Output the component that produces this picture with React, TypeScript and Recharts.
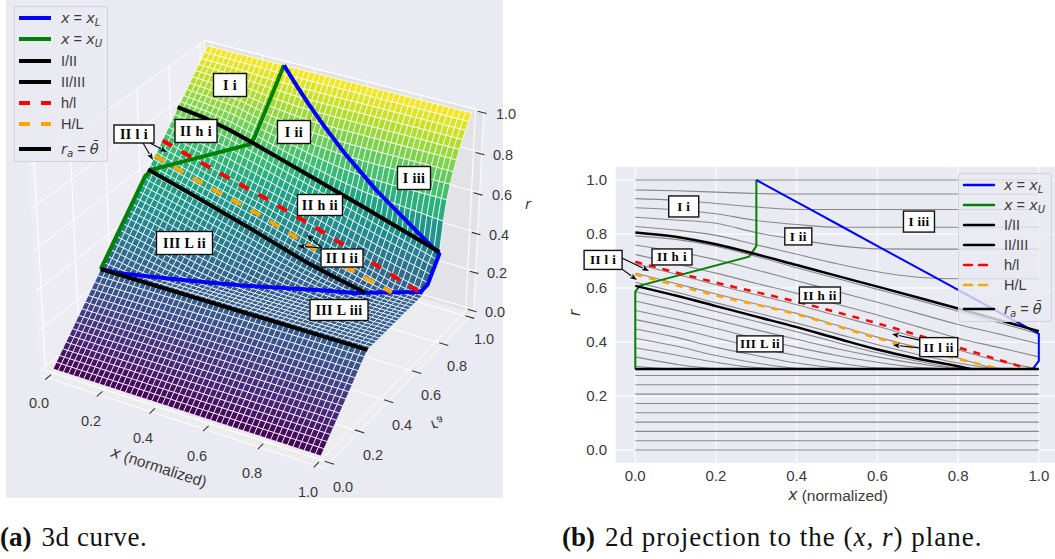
import React from 'react';
import { ScatterChart, Scatter, XAxis, YAxis, CartesianGrid } from 'recharts';

// ---------- values ----------
const xKnots = [0, 0.1, 0.2, 0.3, 0.4, 0.5, 0.6, 0.7, 0.8, 0.9, 1];
const axisTicks = [0, 0.2, 0.4, 0.6, 0.8, 1];
// flat grey curves, below r = 0.3
const lowLevels = [0, 0.0345, 0.069, 0.1034, 0.1379, 0.1724, 0.2069, 0.2414, 0.2759];
// curved grey curves (one per r_a level)
const curveRa = [0.3103, 0.3448, 0.3793, 0.4138, 0.4483, 0.4828, 0.5172, 0.5517, 0.5862, 0.6207, 0.6552, 0.6897, 0.7241, 0.7586, 0.7931, 0.8276, 0.8621, 0.8966, 0.931, 0.9655, 1];
const curveR = [
  [0.31, 0.3, 0.3, 0.3, 0.3, 0.3, 0.3, 0.3, 0.3, 0.3, 0.3],
  [0.345, 0.318, 0.302, 0.3, 0.3, 0.3, 0.3, 0.3, 0.3, 0.3, 0.3],
  [0.379, 0.352, 0.325, 0.305, 0.3, 0.3, 0.3, 0.3, 0.3, 0.3, 0.3],
  [0.414, 0.385, 0.35, 0.322, 0.303, 0.3, 0.3, 0.3, 0.3, 0.3, 0.3],
  [0.448, 0.418, 0.38, 0.35, 0.322, 0.304, 0.3, 0.3, 0.3, 0.3, 0.3],
  [0.483, 0.452, 0.415, 0.38, 0.35, 0.323, 0.304, 0.3, 0.3, 0.3, 0.3],
  [0.517, 0.485, 0.45, 0.413, 0.38, 0.35, 0.325, 0.306, 0.3, 0.3, 0.3],
  [0.552, 0.518, 0.482, 0.445, 0.41, 0.375, 0.345, 0.32, 0.303, 0.3, 0.3],
  [0.586, 0.551, 0.513, 0.476, 0.438, 0.398, 0.36, 0.329, 0.304, 0.3, 0.3],
  [0.621, 0.585, 0.545, 0.508, 0.47, 0.43, 0.39, 0.354, 0.322, 0.302, 0.3],
  [0.655, 0.617, 0.578, 0.541, 0.506, 0.462, 0.418, 0.38, 0.341, 0.303, 0.3],
  [0.69, 0.652, 0.612, 0.575, 0.538, 0.498, 0.458, 0.415, 0.371, 0.33, 0.3],
  [0.724, 0.69, 0.655, 0.617, 0.58, 0.54, 0.5, 0.457, 0.414, 0.38, 0.345],
  [0.759, 0.735, 0.705, 0.667, 0.627, 0.587, 0.547, 0.506, 0.465, 0.43, 0.393],
  [0.793, 0.78, 0.755, 0.717, 0.675, 0.635, 0.595, 0.555, 0.514, 0.472, 0.43],
  [0.828, 0.815, 0.795, 0.76, 0.725, 0.69, 0.66, 0.64, 0.634, 0.634, 0.634],
  [0.862, 0.852, 0.84, 0.805, 0.78, 0.757, 0.745, 0.744, 0.744, 0.744, 0.744],
  [0.897, 0.89, 0.875, 0.85, 0.835, 0.825, 0.825, 0.825, 0.825, 0.825, 0.825],
  [0.931, 0.925, 0.913, 0.9, 0.891, 0.891, 0.891, 0.891, 0.891, 0.891, 0.891],
  [0.963, 0.96, 0.955, 0.95, 0.948, 0.948, 0.948, 0.948, 0.948, 0.948, 0.948],
  [1, 1, 1, 1, 1, 1, 1, 1, 1, 1, 1],
];
// boundary curves
const raIII = 0.605;
const xIII = [0, 0.1, 0.2, 0.3, 0.4, 0.5, 0.6, 0.7, 0.8, 0.83];
const rIII = [0.608, 0.572, 0.533, 0.494, 0.455, 0.413, 0.372, 0.338, 0.31, 0.3];
const raII = 0.8;
const rII = [0.806, 0.79, 0.762, 0.725, 0.685, 0.645, 0.605, 0.565, 0.524, 0.482, 0.44];
const raRed = 0.7;
const xRed = [0, 0.2, 0.4, 0.6, 0.8, 0.975];
const rRed = [0.697, 0.62, 0.549, 0.469, 0.38, 0.3];
const raOrange = 0.65;
const xOrange = [0, 0.2, 0.4, 0.6, 0.8, 0.905];
const rOrange = [0.65, 0.572, 0.5025, 0.414, 0.337, 0.3];
const raTheta = 0.3;
const xTheta = [0, 1];
const rTheta = [0.3, 0.3];
const xGreen = [0.3, 0.3, 0.282, 0.012, 0, 0];
const raGreen = [1, 0.8, 0.8, 0.61, 0.587, 0.3];
const rGreen = [1, 0.755, 0.716, 0.609, 0.587, 0.3];
const xBlue = [0.3, 0.364, 0.434, 0.515, 0.614, 0.75, 1, 1, 0.985, 0.9, 0.83, 0.8, 0.71, 0.63, 0.55, 0.47, 0.38, 0.28, 0.18, 0.07, 0];
const raBlue = [1, 0.9655, 0.931, 0.897, 0.862, 0.828, 0.8, 0.72, 0.7, 0.65, 0.605, 0.586, 0.552, 0.517, 0.483, 0.448, 0.414, 0.379, 0.345, 0.31, 0.3];
const rBlue = [1, 0.948, 0.891, 0.825, 0.744, 0.634, 0.43, 0.33, 0.3, 0.3, 0.3, 0.3, 0.3, 0.3, 0.3, 0.3, 0.3, 0.3, 0.3, 0.3, 0.3];

const labels3d = [
  { t: 'I i', u: 230, v: 85, w: 33, h: 23 },
  { t: 'I ii', u: 294, v: 132, w: 33, h: 23 },
  { t: 'II h i', u: 196, v: 131, w: 42, h: 23 },
  { t: 'II l i', u: 134, v: 134, w: 40, h: 18 },
  { t: 'I iii', u: 414, v: 178, w: 33, h: 23 },
  { t: 'II h ii', u: 320, v: 205, w: 45, h: 21 },
  { t: 'III L ii', u: 184.5, v: 243, w: 56, h: 23 },
  { t: 'II l ii', u: 342, v: 258, w: 42, h: 18 },
  { t: 'III L iii', u: 339, v: 310, w: 58, h: 21 },
];
const arrows3d = [
  { u: 143, v: 143, du: 10, dv: 17 },
  { u: 150, v: 143, du: 17, dv: 9 },
  { u: 322, v: 248, du: -15, dv: -13 },
  { u: 322, v: 248, du: -24, dv: -2 },
];
const labels2d = [
  { t: 'I i', x: 0.12, r: 0.902, w: 30, h: 21, dx: 0 },
  { t: 'I ii', x: 0.404, r: 0.791, w: 27, h: 17, dx: 0 },
  { t: 'I iii', x: 0.703, r: 0.846, w: 31, h: 21, dx: 0 },
  { t: 'II h i', x: 0.091, r: 0.715, w: 40, h: 16, dx: 0 },
  { t: 'II l i', x: -0.05, r: 0.704, w: 38, h: 19, dx: -12 },
  { t: 'II h ii', x: 0.4575, r: 0.574, w: 41, h: 16, dx: 0 },
  { t: 'II l ii', x: 0.752, r: 0.381, w: 38, h: 19, dx: 0 },
  { t: 'III L ii', x: 0.309, r: 0.393, w: 46, h: 16, dx: 0 },
];
const arrows2d = [
  { x: -0.033, r: 0.711, tx: 0.034, tr: 0.663 },
  { x: -0.033, r: 0.67, tx: 0.004, tr: 0.63 },
  { x: 0.705, r: 0.407, tx: 0.636, tr: 0.43 },
  { x: 0.705, r: 0.378, tx: 0.638, tr: 0.389 },
];
const xTickPos3d = [[39, 403], [91, 421], [143, 438], [197, 456], [252, 473], [308, 492]];
const raTickPos3d = [[343, 487], [373, 455], [402, 425], [431, 395], [457, 366], [484, 339]];
const rTickPos3d = [[495, 312], [497, 273], [499, 235], [502, 195], [503, 155], [506, 114]];

const viridis = ['#440154', '#482475', '#414487', '#355F8D', '#2A788E', '#21908C', '#22A884', '#43BF71', '#7AD151', '#BBDF27', '#FDE725'];

// ---------- 3d view of the left panel: page pixels for (x, r_a, r) ----------
const project = (x: number, y: number, z: number) => {
  const d = 1 - 0.0498 * x + 0.092 * y - 0.0485 * z;
  return {
    u: (53 + 252 * x + 176.5 * y - 13 * z) / d,
    v: (369 + 64.3 * x - 109.2 * y - 212 * z) / d,
  };
};
const XMIN = -0.03, XMAX = 1.03, YMIN = -0.03, YMAX = 1.03, ZMIN = -0.02, ZMAX = 1;

// ---------- surface table ----------
const tableRows: { ra: number; r: number[] }[] = [
  { ra: 0, r: xKnots.map(() => 0) },
  { ra: raTheta, r: xKnots.map(() => 0.3) },
  { ra: raII, r: rII },
  ...curveRa.map((ra, i) => ({ ra, r: curveR[i] })),
].sort((a, b) => a.ra - b.ra);
const surf = (x: number, ra: number) => {
  let i = 0;
  while (i < tableRows.length - 2 && tableRows[i + 1].ra < ra) i++;
  const a = tableRows[i], b = tableRows[i + 1];
  const f = Math.min(1, Math.max(0, (ra - a.ra) / (b.ra - a.ra)));
  const j = Math.min(xKnots.length - 2, Math.floor(x * 10 + 1e-9));
  const g = (x - xKnots[j]) / (xKnots[j + 1] - xKnots[j]);
  const ra0 = a.r[j] + (a.r[j + 1] - a.r[j]) * g;
  const rb0 = b.r[j] + (b.r[j + 1] - b.r[j]) * g;
  return ra0 + (rb0 - ra0) * f;
};
const colorOf = (t: number) => {
  const p = Math.min(0.9999, Math.max(0, t)) * (viridis.length - 1);
  const i = Math.floor(p), f = p - i;
  const c = (h: string, k: number) => parseInt(h.slice(1 + 2 * k, 3 + 2 * k), 16);
  const m = [0, 1, 2].map((k) => Math.round(c(viridis[i], k) + (c(viridis[i + 1], k) - c(viridis[i], k)) * f));
  return `rgb(${m[0]},${m[1]},${m[2]})`;
};
const MESH = 50;
const polyOf = (pts: number[][], fill: string, stroke: string, sw: number) => {
  const u = pts.reduce((s, p) => s + p[0], 0) / pts.length;
  const v = pts.reduce((s, p) => s + p[1], 0) / pts.length;
  return { u, v, rel: pts.map((p) => [p[0] - u, p[1] - v]), fill, stroke, sw };
};
const P = (x: number, y: number, z: number) => { const q = project(x, y, z); return [q.u, q.v]; };
const cells: any[] = [];
for (let j = MESH - 1; j >= 0; j--) {
  for (let i = 0; i < MESH; i++) {
    const x0 = i / MESH, x1 = (i + 1) / MESH, y0 = j / MESH, y1 = (j + 1) / MESH;
    const zs = [surf(x0, y0), surf(x1, y0), surf(x1, y1), surf(x0, y1)];
    const avg = (zs[0] + zs[1] + zs[2] + zs[3]) / 4;
    cells.push(polyOf([P(x0, y0, zs[0]), P(x1, y0, zs[1]), P(x1, y1, zs[2]), P(x0, y1, zs[3])], colorOf(avg), '#ffffff', 0.75));
  }
}
const panes = [
  polyOf([P(XMIN, YMIN, ZMIN), P(XMAX, YMIN, ZMIN), P(XMAX, YMAX, ZMIN), P(XMIN, YMAX, ZMIN)], '#ECECEE', 'none', 0),
  polyOf([P(XMIN, YMAX, ZMIN), P(XMAX, YMAX, ZMIN), P(XMAX, YMAX, ZMAX), P(XMIN, YMAX, ZMAX)], '#E3E3E7', 'none', 0),
  polyOf([P(XMIN, YMIN, ZMIN), P(XMIN, YMAX, ZMIN), P(XMIN, YMAX, ZMAX), P(XMIN, YMIN, ZMAX)], '#ECECF2', 'none', 0),
];
const seg = (pts: number[][]) => pts.map((p) => ({ u: p[0], v: p[1] }));
const grid3d: { u: number; v: number }[][] = [
  ...axisTicks.map((t) => seg([P(t, YMIN, ZMIN), P(t, YMAX, ZMIN), P(t, YMAX, ZMAX)])),
  ...axisTicks.map((t) => seg([P(XMAX, t, ZMIN), P(XMIN, t, ZMIN), P(XMIN, t, ZMAX)])),
  ...axisTicks.map((t) => seg([P(XMIN, YMIN, t), P(XMIN, YMAX, t), P(XMAX, YMAX, t)])),
  seg([P(XMIN, YMIN - 0.005, ZMIN), P(XMAX, YMIN - 0.005, ZMIN)]),
  seg([P(XMAX, YMIN, ZMIN), P(XMAX, YMAX, ZMIN)]),
  seg([P(XMIN, YMAX, ZMIN), P(XMIN, YMAX, ZMAX), P(XMAX, YMAX, ZMAX), P(XMAX, YMAX, ZMIN)]),
];
const ticks3d: { u: number; v: number }[][] = [
  ...axisTicks.map((t) => seg([P(t, -0.046, ZMIN), P(t, -0.012, ZMIN)])),
  ...axisTicks.map((t) => seg([P(1.013, t, ZMIN), P(1.047, t, ZMIN)])),
  ...axisTicks.map((t) => seg([P(1.013, 1.02, t), P(1.045, 1.02, t)])),
];
const tickText3d = [
  ...xTickPos3d.map((p, i) => ({ u: p[0], v: p[1], t: axisTicks[i].toFixed(1) })),
  ...raTickPos3d.map((p, i) => ({ u: p[0], v: p[1], t: axisTicks[i].toFixed(1) })),
  ...rTickPos3d.map((p, i) => ({ u: p[0], v: p[1], t: axisTicks[i].toFixed(1) })),
];
const lift = (xs: number[], ras: number | number[], rs: number[]) =>
  xs.map((x, i) => project(x, Array.isArray(ras) ? ras[i] : ras, rs[i]));

const SANS = '"Liberation Sans", Arial, sans-serif';
const MATH = '"DejaVu Sans", sans-serif';
const SERIF = '"Liberation Serif", serif';
const INK = '#3a3a3a';
const Nil = () => null;

const Poly = (props: any) => {
  const { cx, cy, payload } = props;
  const pts = payload.rel.map((p: number[]) => `${cx + p[0]},${cy + p[1]}`).join(' ');
  return <polygon points={pts} fill={payload.fill} stroke={payload.stroke} strokeWidth={payload.sw} />;
};
const TickText = (props: any) => (
  <text x={props.cx} y={props.cy} textAnchor="middle" dominantBaseline="central" fontFamily={SANS} fontSize={14.5} fill={INK}>
    {props.payload.t}
  </text>
);
const BoxLabel = (fontSize: number, sw: number) => (props: any) => {
  const { cx, cy, payload: p } = props;
  const x = cx + (p.dx || 0);
  return (
    <g>
      <rect x={x - p.w / 2} y={cy - p.h / 2} width={p.w} height={p.h} fill="#fff" stroke="#111" strokeWidth={sw} />
      <text x={x} y={cy} textAnchor="middle" dominantBaseline="central" fontFamily={SERIF} fontWeight={700} fontSize={fontSize} letterSpacing={0.4} fill="#000">
        {p.t}
      </text>
    </g>
  );
};
const arrowPath = (x0: number, y0: number, x1: number, y1: number) => {
  const a = Math.atan2(y1 - y0, x1 - x0);
  const s = 7, w = 2.6;
  const bx = x1 - s * Math.cos(a), by = y1 - s * Math.sin(a);
  const nx = -Math.sin(a) * w, ny = Math.cos(a) * w;
  return (
    <g>
      <line x1={x0} y1={y0} x2={bx} y2={by} stroke="#000" strokeWidth={1.1} />
      <polygon points={`${x1},${y1} ${bx + nx},${by + ny} ${bx + Math.cos(a) * 1.5},${by + Math.sin(a) * 1.5} ${bx - nx},${by - ny}`} fill="#000" />
    </g>
  );
};
const Arrow3d = (props: any) => arrowPath(props.cx, props.cy, props.cx + props.payload.du, props.cy + props.payload.dv);
const SX = 403.7, SY = 270;
const Arrow2d = (props: any) => {
  const p = props.payload;
  return arrowPath(props.cx, props.cy, props.cx + (p.tx - p.x) * SX, props.cy - (p.tr - p.r) * SY);
};
const Cap3d = (props: any) => {
  const p = props.payload;
  if (p.kind === 'x') {
    return (
      <text x={props.cx} y={props.cy} textAnchor="middle" dominantBaseline="central" fontFamily={SANS} fontSize={15.5} fill={INK} transform={`rotate(18 ${props.cx} ${props.cy})`}>
        <tspan fontFamily={MATH} fontStyle="italic">x</tspan> (normalized)
      </text>
    );
  }
  if (p.kind === 'r') {
    return <text x={props.cx} y={props.cy} textAnchor="middle" dominantBaseline="central" fontFamily={MATH} fontStyle="italic" fontSize={14.5} fill={INK}>r</text>;
  }
  return (
    <g transform={`translate(${props.cx} ${props.cy}) rotate(-8) scale(1 -1)`}>
      <text x={-5} y={4} fontFamily={MATH} fontStyle="italic" fontSize={14.5} fill={INK}>r<tspan dy={3} fontSize={10.5}>a</tspan></text>
    </g>
  );
};
const captions3d = [
  { u: 159, v: 467, kind: 'x' },
  { u: 528, v: 204, kind: 'r' },
  { u: 436, v: 424, kind: 'ra' },
];

const Sub = ({ children }: any) => <sub style={{ fontSize: '70%', lineHeight: 0, verticalAlign: '-0.28em' }}>{children}</sub>;
const I = ({ children }: any) => <i style={{ fontFamily: MATH }}>{children}</i>;
const legendEntries = [
  { key: 'xl', color: '#0000FF', dash: '', text: <><I>x</I> = <I>x<Sub>L</Sub></I></> },
  { key: 'xu', color: '#008000', dash: '', text: <><I>x</I> = <I>x<Sub>U</Sub></I></> },
  { key: 'i2', color: '#000', dash: '', text: <>I/II</> },
  { key: 'i3', color: '#000', dash: '', text: <>II/III</> },
  { key: 'hl', color: '#FF0000', dash: 'd', text: <>h/l</> },
  { key: 'HL', color: '#FFA500', dash: 'd', text: <>H/L</> },
  { key: 'th', color: '#000', dash: '', text: <><I>r<Sub>a</Sub></I> = <I>θ̄</I></> },
];
const LegendBox = ({ left, top, width, height, rows, swX, swW, textX, lw, dash }: any) => (
  <div style={{ position: 'absolute', left, top, width, height, boxSizing: 'border-box', background: 'rgba(234,234,242,0.8)', border: '1px solid rgba(204,204,204,0.8)', borderRadius: 3 }}>
    {legendEntries.map((e, i) => (
      <React.Fragment key={e.key}>
        <svg style={{ position: 'absolute', left: swX, top: rows[i] - 5, overflow: 'visible' }} width={swW} height={10}>
          <line x1={0} x2={swW} y1={5} y2={5} stroke={e.color} strokeWidth={lw} strokeLinecap={dash && lw > 3 ? 'butt' : 'round'} strokeDasharray={e.dash ? dash : undefined} />
        </svg>
        <div style={{ position: 'absolute', left: textX, top: rows[i] - 10, height: 20, lineHeight: '20px', fontFamily: SANS, fontSize: 14.5, color: INK, whiteSpace: 'nowrap' }}>{e.text}</div>
      </React.Fragment>
    ))}
  </div>
);

const W3 = 535, H3 = 510;

function Left() {
  const lineS = (d: any[], stroke: string, sw: number, dash?: string, k?: string) => (
    <Scatter key={k} data={d} shape={Nil} isAnimationActive={false} line={{ stroke, strokeWidth: sw, strokeDasharray: dash, strokeLinecap: 'butt', strokeLinejoin: 'round' } as any} />
  );
  return (
    <ScatterChart width={W3} height={H3} margin={{ top: 0, right: 0, bottom: 0, left: 0 }} style={{ position: 'absolute', left: 0, top: 0 }}>
      <XAxis type="number" dataKey="u" domain={[0, W3]} hide allowDataOverflow={false} />
      <YAxis type="number" dataKey="v" domain={[0, H3]} reversed hide allowDataOverflow={false} />
      <Scatter data={panes} shape={Poly} isAnimationActive={false} />
      {grid3d.map((g, i) => lineS(g, '#ffffff', 1, undefined, `g${i}`))}
      <Scatter data={cells} shape={Poly} isAnimationActive={false} />
      {ticks3d.map((g, i) => lineS(g, '#333333', 1.1, undefined, `t${i}`))}
      {lineS(lift(xGreen, raGreen, rGreen), '#008000', 4, undefined, 'green')}
      {lineS(lift(xBlue, raBlue, rBlue), '#0000FF', 4, undefined, 'blue')}
      {lineS(lift(xKnots, raII, rII), '#000', 4, undefined, 'ii')}
      {lineS(lift(xIII, raIII, rIII), '#000', 4, undefined, 'iii')}
      {lineS(lift(xRed, raRed, rRed), '#FF0000', 4, '11 11', 'red')}
      {lineS(lift(xOrange, raOrange, rOrange), '#FFA500', 4, '11 11', 'orange')}
      {lineS(lift(xTheta, raTheta, rTheta), '#000', 4, undefined, 'theta')}
      <Scatter data={arrows3d} shape={Arrow3d} isAnimationActive={false} />
      <Scatter data={labels3d} shape={BoxLabel(14, 1.4)} isAnimationActive={false} />
      <Scatter data={tickText3d} shape={TickText} isAnimationActive={false} />
      <Scatter data={captions3d} shape={Cap3d} isAnimationActive={false} />
    </ScatterChart>
  );
}

function Right() {
  const L = (d: any[], stroke: string, sw: number, dash?: string, k?: string, joint: any = 'linear') => (
    <Scatter key={k} data={d} shape={Nil} isAnimationActive={false} lineType="joint" lineJointType={joint} line={{ stroke, strokeWidth: sw, strokeDasharray: dash } as any} />
  );
  const xy = (xs: number[], rs: number[]) => xs.map((x, i) => ({ x, r: rs[i] }));
  return (
    <ScatterChart width={510} height={409} margin={{ top: 16.5, right: 1, bottom: 45.5, left: 0 }} style={{ position: 'absolute', left: 550, top: 150 }}>
      <CartesianGrid fill="#EAEAF2" stroke="#ffffff" strokeWidth={1} />
      <XAxis
        type="number" dataKey="x" domain={[-0.05, 1.05]} ticks={axisTicks} height={50} tickLine={false} axisLine={false} tickSize={6} tickMargin={1}
        tickFormatter={(v: number) => v.toFixed(1)} tick={{ fontFamily: SANS, fontSize: 15, fill: INK }}
        label={{
          content: () => (
            <text x={288} y={345} textAnchor="middle" dominantBaseline="central" fontFamily={SANS} fontSize={15.5} fill={INK}>
              <tspan fontFamily={MATH} fontStyle="italic">x</tspan> (normalized)
            </text>
          ),
        }}
      />
      <YAxis
        type="number" dataKey="r" domain={[-0.05, 1.05]} ticks={axisTicks} width={65.1} tickLine={false} axisLine={false} tickSize={8} tickMargin={0}
        tickFormatter={(v: number) => v.toFixed(1)} tick={{ fontFamily: SANS, fontSize: 15, fill: INK }}
        label={{
          content: () => (
            <text x={25} y={163} textAnchor="middle" dominantBaseline="central" fontFamily={MATH} fontStyle="italic" fontSize={15} fill={INK} transform="rotate(-90 25 163)">r</text>
          ),
        }}
      />
      {lowLevels.map((lv, i) => L(xy([0, 1], [lv, lv]), '#888888', 1.1, undefined, `lo${i}`))}
      {curveR.map((rs, i) => L(xy(xKnots, rs), '#888888', 1.1, undefined, `c${i}`, 'monotoneX'))}
      {L(xy(xGreen, rGreen), '#008000', 2, undefined, 'green')}
      {L(xy(xBlue, rBlue), '#0000FF', 2, undefined, 'blue')}
      {L(xy(xKnots, rII), '#000', 2.5, undefined, 'ii', 'monotoneX')}
      {L(xy(xIII, rIII), '#000', 2.5, undefined, 'iii', 'monotoneX')}
      {L(xy(xRed, rRed), '#FF0000', 2.5, '7 7', 'red', 'monotoneX')}
      {L(xy(xOrange, rOrange), '#FFA500', 2.5, '7 7', 'orange', 'monotoneX')}
      {L(xy(xTheta, rTheta), '#000', 2.5, undefined, 'theta')}
      <Scatter data={arrows2d} shape={Arrow2d} isAnimationActive={false} />
      <Scatter data={labels2d} shape={BoxLabel(13, 1.4)} isAnimationActive={false} />
    </ScatterChart>
  );
}

export default function App() {
  return (
    <div style={{ position: 'absolute', left: 0, top: 0, width: 1055, height: 559, overflow: 'hidden', background: '#fff' }}>
      <div style={{ position: 'absolute', left: 6, top: 0, width: 497, height: 498, background: '#EAEAF2' }} />
      <Left />
      <Right />
      <LegendBox left={14} top={6} width={94} height={156} rows={[10.7, 32.3, 54, 75, 95.7, 117, 141.7]} swX={4} swW={32} textX={46} lw={4} dash="11 11" />
      <LegendBox left={958} top={173} width={94} height={149} rows={[11.3, 31.3, 51.3, 71, 91.3, 111.3, 135.3]} swX={5} swW={30} textX={45} lw={2.5} dash="8 7" />
      <div style={{ position: 'absolute', left: 0, top: 522, fontFamily: SERIF, fontSize: 27, lineHeight: '30px', whiteSpace: 'nowrap', color: '#111' }}>
        <b>(a)</b><span style={{ marginLeft: 10, letterSpacing: 0.6 }}>3d curve.</span>
      </div>
      <div style={{ position: 'absolute', left: 562, top: 522, fontFamily: SERIF, fontSize: 27, lineHeight: '30px', whiteSpace: 'nowrap', color: '#111' }}>
        <b>(b)</b><span style={{ marginLeft: 10, letterSpacing: 1 }}>2d projection to the (<i>x, r</i>) plane.</span>
      </div>
    </div>
  );
}
